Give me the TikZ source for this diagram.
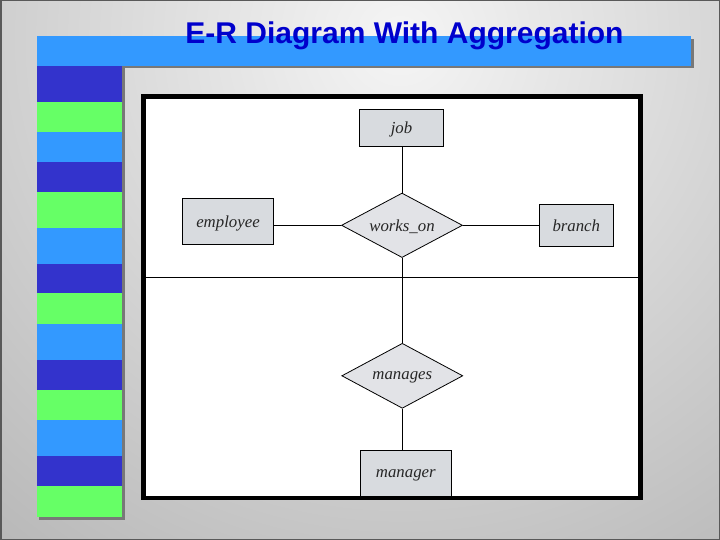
\documentclass[tikz,border=0pt]{standalone}
\usepackage{fontspec}
\newfontfamily\titlefont{Liberation Sans}
\newfontfamily\labelfont{Liberation Serif}
\usetikzlibrary{shapes.geometric}
\definecolor{barblue}{RGB}{51,153,255}
\definecolor{deepblue}{RGB}{51,51,204}
\definecolor{lgreen}{RGB}{102,255,102}
\definecolor{titleblue}{RGB}{0,0,204}
\definecolor{entfill}{RGB}{216,219,223}
\definecolor{relfill}{RGB}{226,227,231}
\definecolor{shadowgray}{RGB}{120,120,120}
\begin{document}
\begin{tikzpicture}[x=1pt,y=-1pt,
  lbl/.style={font=\labelfont\itshape\fontsize{16.8}{19}\selectfont, text=black!85, text depth=0pt},
  entity/.style={lbl, draw=black, line width=0.8pt, fill=entfill, inner sep=0pt},
  relation/.style={lbl, diamond, aspect=1.9, draw=black, line width=0.8pt, fill=relfill, inner sep=0pt},
  link/.style={line width=0.8pt}]
\useasboundingbox (0,0) rectangle (720,540);
% background
\begin{scope}
  \clip (0,0) rectangle (720,540);
  \shade[inner color=black!4, outer color=black!52] (400,40) circle (1300);
\end{scope}
\draw[black!65, line width=1.5pt] (0.75,0.75) rectangle (719.25,539.25);
% shadows
\fill[shadowgray] (39,39) rectangle (693.5,68.5);
\fill[shadowgray] (38.5,68) rectangle (124.5,519.5);
% top bar
\fill[barblue] (36.5,36.5) rectangle (690.7,66);
% stripes
\foreach \ya/\yb/\c in {66/102/deepblue,102/132/lgreen,132/162/barblue,162/192/deepblue,192/228/lgreen,228/264/barblue,264/293/deepblue,293/324/lgreen,324/360/barblue,360/390/deepblue,390/420/lgreen,420/456/barblue,456/486/deepblue,486/517.3/lgreen}
  \fill[\c] (36.5,\ya) rectangle (122,\yb);
% title
\node[anchor=base, inner sep=0pt, text=titleblue, font=\titlefont\bfseries\fontsize{30}{34}\selectfont] (title) at (404.5,43.3) {E-R Diagram With Aggregation};
% frame
\node[draw=black, line width=4.5pt, fill=white, minimum width=497pt, minimum height=401.5pt, inner sep=0pt] (frame) at (392,297.25) {};
\coordinate (sepL) at (143.5,277.3);
\coordinate (sepR) at (640.5,277.3);
\draw[link] (sepL) -- (sepR);
% nodes
\node[entity, minimum width=83.5pt, minimum height=37.5pt] (job) at (401.5,128) {job};
\node[entity, minimum width=91.5pt, minimum height=46pt] (employee) at (228,221.3) {employee};
\node[relation, minimum width=121pt, minimum height=64.5pt] (works) at (402,225.3) {works\_on};
\node[entity, minimum width=74pt, minimum height=42.3pt] (branch) at (576.3,225.2) {branch};
\node[relation, minimum width=121pt, minimum height=65pt] (manages) at (402.3,375.8) {manages};
\node[entity, minimum width=91.7pt, minimum height=46.7pt] (manager) at (405.8,473.3) {manager};
% connectors
\draw[link] (works.north) -- (works.north |- job.south);
\draw[link] (works.west) -- (works.west -| employee.east);
\draw[link] (works.east) -- (works.east -| branch.west);
\draw[link] (works.south) -- (works.south |- manages.north);
\draw[link] (manages.south) -- (manages.south |- manager.north);
\end{tikzpicture}
\end{document}
